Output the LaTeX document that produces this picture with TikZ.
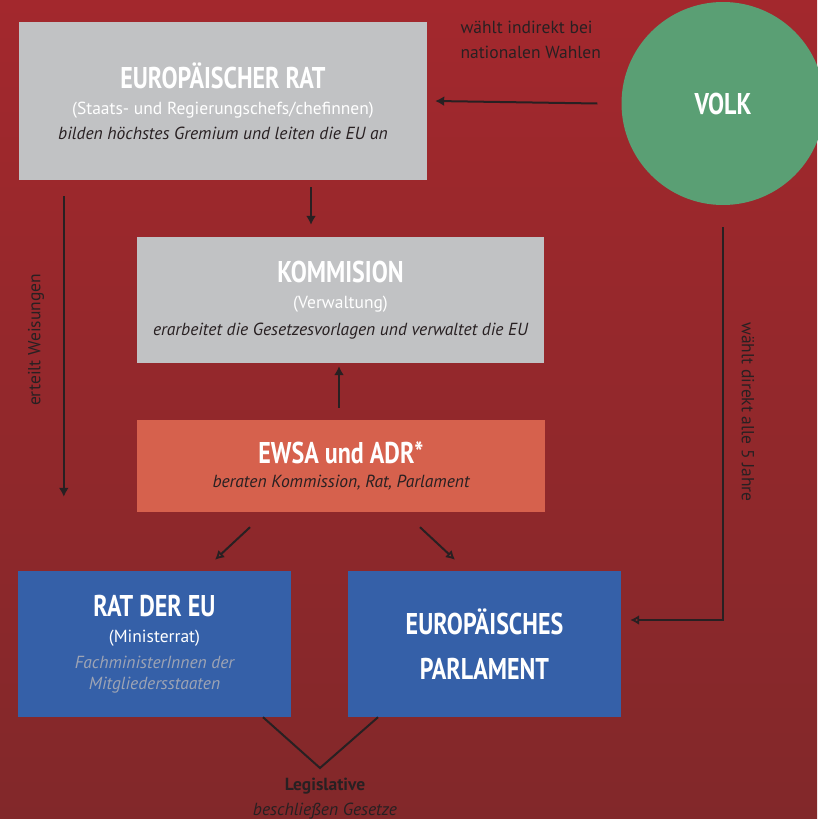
\documentclass[tikz,border=0pt]{standalone}
\usepackage{fontspec}
\setmainfont{PT Sans}
\newfontfamily\headfont[FakeStretch=0.8]{PT Sans}
\usetikzlibrary{positioning,arrows.meta}

\definecolor{bgtop}{RGB}{163,40,45}
\definecolor{bgbottom}{RGB}{130,40,42}
\definecolor{ratgray}{RGB}{193,194,196}
\definecolor{ewsared}{RGB}{214,97,77}
\definecolor{eublue}{RGB}{53,96,168}
\definecolor{volkgreen}{RGB}{90,159,116}
\definecolor{inkdark}{RGB}{40,32,34}
\definecolor{notegray}{RGB}{158,164,180}

\newcommand{\boxhead}[1]{{\headfont\bfseries\fontsize{30}{32}\selectfont #1}}
\newcommand{\boxnote}[1]{{\color{notegray}\itshape #1}}

\begin{document}
\begin{tikzpicture}
[
    x = 1pt, y = -1pt,
    boxstyle/.style  = {inner sep=0pt,
                        align=center,
                        text=white,
                        font=\fontsize{17.5}{25}\selectfont},
    graybox/.style   = {boxstyle, fill=ratgray},
    ewsabox/.style   = {boxstyle, fill=ewsared},
    bluebox/.style   = {boxstyle, fill=eublue},
    labelstyle/.style = {text=inkdark,
                        font=\fontsize{17.5}{25}\selectfont},
    arr/.style       = {line width=2pt, draw=inkdark,
                        -{Latex[length=9pt,width=10pt]}},
    openarr/.style   = {line width=2pt, draw=inkdark,
                        -{Latex[open,length=9pt,width=10pt]}}
]

\useasboundingbox (0,0) rectangle (817,819);
\shade[top color=bgtop, bottom color=bgbottom] (0,0) rectangle (817,819);

% top row
\node (europrat) [graybox, minimum width=408, minimum height=158] at (223,101) {
\boxhead{EUROPÄISCHER RAT}\\[1pt]
(Staats- und Regierungschefs/chefinnen)\\
{\color{inkdark}\itshape bilden höchstes Gremium und leiten die EU an}
};
\node (volk) [circle, fill=volkgreen, inner sep=0pt, minimum size=203, text=white] at (723,103.5) {
\boxhead{VOLK}
};

\draw[arr] ([xshift=-24pt]volk.west) -- ([xshift=8pt]europrat.east);
\node (indirekt) [labelstyle, align=left, anchor=north west] at (457,18) {
wählt indirekt bei\\
nationalen Wahlen
};

% middle column
\node (kommission) [graybox, minimum width=407, minimum height=126] at (340.5,300) {
\boxhead{KOMMISION}\\[1pt]
(Verwaltung)\\[2pt]
{\color{inkdark}\itshape erarbeitet die Gesetzesvorlagen und verwaltet die EU}
};

\draw[arr] ([xshift=88pt,yshift=-7pt]europrat.south) -- ([xshift=-29.5pt,yshift=12pt]kommission.north);

\node (ewsa) [ewsabox, minimum width=408, minimum height=92] at (341,466) {
\boxhead{EWSA und ADR*}\\[-1pt]
{\color{inkdark}\itshape beraten Kommission, Rat, Parlament}
};

\draw[arr] ([xshift=-2pt,yshift=12pt]ewsa.north) -- ([xshift=-1.5pt,yshift=-3pt]kommission.south);

% bottom row
\node (ratdereu) [bluebox, minimum width=273, minimum height=146] at (154.5,644) {
\boxhead{RAT DER EU}\\[1pt]
(Ministerrat)\\[1pt]
\boxnote{FachministerInnen der}\\[-4pt]
\boxnote{Mitgliedersstaaten}
};
\node (parlament) [bluebox, minimum width=273, minimum height=146] at (484.5,644) {
\boxhead{EUROPÄISCHES}\\[20pt]
\boxhead{PARLAMENT}
};

\draw[openarr] ([xshift=-91pt,yshift=-15pt]ewsa.south) -- ([xshift=60.5pt,yshift=11pt]ratdereu.north);
\draw[openarr] ([xshift=79pt,yshift=-15pt]ewsa.south) -- ([xshift=-29.5pt,yshift=11pt]parlament.north);

% side connectors
\draw[arr] ([xshift=45pt,yshift=-16pt]europrat.south west) -- ([xshift=46pt,yshift=74pt]ratdereu.north west);
\node (weisungen) [labelstyle, rotate=90] at (36,340) {erteilt Weisungen};

\draw[openarr] ([yshift=-22pt]volk.south) |- ([xshift=9pt,yshift=24pt]parlament.east);
\node (direkt) [labelstyle, rotate=-90] at (748,412) {wählt direkt alle 5 Jahre};

% legislative
\coordinate (vtip) at (320,768);
\draw[line width=2pt, draw=inkdark] ([xshift=108.5pt]ratdereu.south) -- (vtip) -- ([xshift=-106.5pt]parlament.south);
\node (legislative) [labelstyle, font=\fontsize{17.5}{20}\selectfont\bfseries, below=7pt of vtip, xshift=5pt] {Legislative};
\node (gesetze) [labelstyle, font=\fontsize{17.5}{20}\selectfont\itshape, below=1pt of legislative] {beschließen Gesetze};

\end{tikzpicture}
\end{document}
